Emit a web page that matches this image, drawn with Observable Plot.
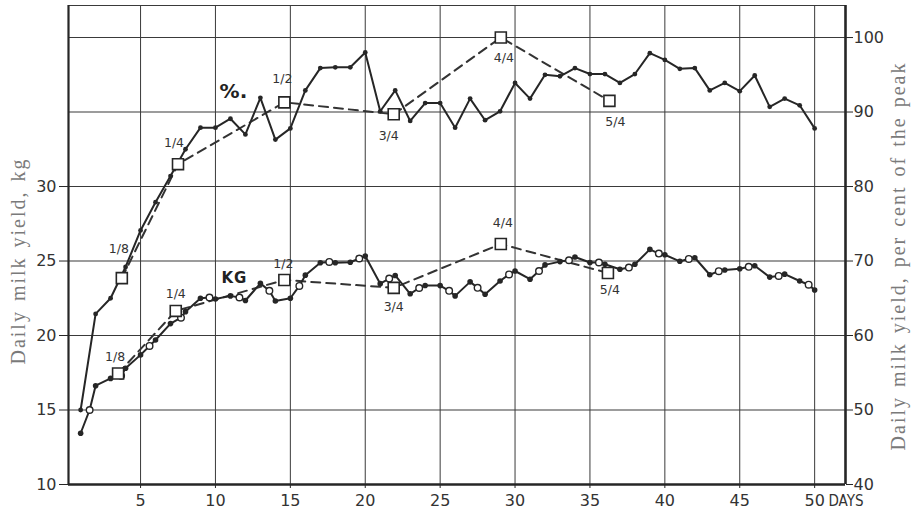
<!DOCTYPE html>
<html><head><meta charset="utf-8">
<script src="https://cdn.jsdelivr.net/npm/d3@7"></script>
<script src="https://cdn.jsdelivr.net/npm/@observablehq/plot@0.6"></script>
<style>
html,body{margin:0;padding:0;background:#fff;}
#chart svg{display:block;}
</style>
</head><body><div id="chart"></div>
<script>
// ---- data ----
const days = [1,2,3,4,5,6,7,8,9,10,11,12,13,14,15,16,17,18,19,20,21,22,23,24,25,26,27,28,29,30,31,32,33,34,35,36,37,38,39,40,41,42,43,44,45,46,47,48,49,50];
// daily yield, per cent of the peak (right axis)
const pctValues = [50.0,62.9,65.0,69.2,74.1,77.9,81.4,85.0,87.9,87.9,89.1,87.0,91.9,86.3,87.8,92.9,95.9,96.0,96.0,98.0,90.1,92.9,88.8,91.2,91.2,87.9,91.8,88.9,90.1,93.9,91.8,95.0,94.8,95.9,95.1,95.1,93.9,95.1,97.9,97.0,95.8,95.9,92.9,93.9,92.8,94.9,90.7,91.8,90.9,87.8];
// daily yield, kg (left axis), filled dots
const kgValues = [13.44,16.63,17.12,17.8,18.7,19.7,20.8,21.6,22.5,22.45,22.66,22.35,23.5,22.32,22.5,24.05,24.88,24.88,24.92,25.33,23.48,24.03,22.8,23.36,23.35,22.66,23.6,22.77,23.66,24.33,23.78,24.74,24.96,25.27,24.9,24.78,24.45,24.78,25.78,25.42,24.98,25.22,24.08,24.4,24.48,24.68,23.92,24.12,23.66,23.05];
// open circles on the kg curve
const openDays = [1.6,3.7,5.6,7.7,9.6,11.6,13.6,15.6,17.6,19.6,21.6,23.6,25.6,27.5,29.6,31.6,33.6,35.6,37.6,39.6,41.6,43.6,45.6,47.6,49.6];
const openKg = [15.0,17.3,19.3,21.2,22.55,22.55,23.0,23.33,24.94,25.17,23.82,23.19,23.0,23.2,24.1,24.33,25.05,24.9,24.56,25.5,25.14,24.32,24.61,24.0,23.41];
// quarter-period squares
const fracLabels = ["1/8","1/4","1/2","3/4","4/4","5/4"];
const topSqDays = [3.75,7.5,14.6,21.9,29.05,36.3];
const topSqPct = [67.7,83.0,91.3,89.7,100.0,91.5];
const botSqDays = [3.5,7.35,14.6,21.9,29.05,36.2];
const botSqKg = [17.45,21.65,23.73,23.2,26.14,24.2];
// axes
const xTicks = [5,10,15,20,25,30,35,40,45,50];
const kgTicks = [10,15,20,25,30];
const kgGrid = [15,20,25,30,35,40];
const pctTicks = [40,50,60,70,80,90,100];
const seriesNames = ["%.", "KG"];
const leftTitle = "Daily milk yield, kg";
const rightTitle = "Daily milk yield, per cent of the peak";

// ---- derived tables ----
const toKg = p => (p - 20) / 2;          // right axis: 40 % <-> 10 kg, 100 % <-> 40 kg
const topPts = days.map((d, i) => ({day: d, v: toKg(pctValues[i])}));
const botFilled = days.map((d, i) => ({day: d, v: kgValues[i]}));
const botOpen = openDays.map((d, i) => ({day: d, v: openKg[i]}));
const botAll = botFilled.concat(botOpen).sort((a, b) => a.day - b.day);
const topSq = fracLabels.map((l, i) => ({day: topSqDays[i], v: toKg(topSqPct[i]), label: l}));
const botSq = fracLabels.map((l, i) => ({day: botSqDays[i], v: botSqKg[i], label: l}));

const xDom = [0.19, 52.06];
const yDom = [10, 42.15];
const ink = "#262626";

// label offsets (layout)
const topOff = [[-3,-29],[-4,-21],[-2,-23],[-5,22],[3,20],[6,21]];
const botOff = [[-3,-17],[0,-17],[-1,-16],[0,19],[2,-21],[2,17]];
const fracStyle = {fontSize: 12.5, fill: "#333", fontFamily: "DejaVu Sans"};
const titleStyle = {rotate: -90, textAnchor: "middle", fontSize: 20, fontFamily: "Liberation Serif", fill: "#7a7a7a"};

const marks = [
  // grid
  Plot.ruleX(xTicks, {stroke: "#3a3a3a", strokeWidth: 1}),
  Plot.ruleY(kgGrid, {stroke: "#3a3a3a", strokeWidth: 1.1}),
  // frame
  Plot.ruleY([yDom[1]], {stroke: "#3a3a3a", strokeWidth: 1.1}),
  Plot.ruleX([xDom[0]], {stroke: ink, strokeWidth: 2.2}),
  Plot.ruleX([xDom[1]], {stroke: ink, strokeWidth: 2.6}),
  Plot.ruleY([yDom[0]], {stroke: ink, strokeWidth: 2.6}),
  // axes
  Plot.axisX(xTicks, {tickSize: 4, tickPadding: 6, label: null, fill: "#333", stroke: ink}),
  Plot.axisY(kgTicks, {anchor: "left", tickSize: 9, tickPadding: 3, label: null, fill: "#333", stroke: ink}),
  Plot.axisY(pctTicks.map(toKg), {anchor: "right", tickSize: 7, tickPadding: 1, label: null, tickFormat: d => String(d * 2 + 20), fill: "#333", stroke: ink}),
  // dashed quarter lines
  Plot.line(topSq, {x: "day", y: "v", stroke: "#333", strokeWidth: 2, strokeDasharray: "9,6"}),
  Plot.line(botSq, {x: "day", y: "v", stroke: "#333", strokeWidth: 2, strokeDasharray: "9,6"}),
  // solid curves
  Plot.line(topPts, {x: "day", y: "v", stroke: ink, strokeWidth: 2}),
  Plot.dot(topPts, {x: "day", y: "v", r: 2.4, fill: ink}),
  Plot.line(botAll, {x: "day", y: "v", stroke: ink, strokeWidth: 2}),
  Plot.dot(botFilled, {x: "day", y: "v", r: 2.8, fill: ink}),
  Plot.dot(botOpen, {x: "day", y: "v", r: 3.3, fill: "white", stroke: ink, strokeWidth: 1.4}),
  // squares
  Plot.dot(topSq, {x: "day", y: "v", symbol: "square", r: 6.2, fill: "white", stroke: ink, strokeWidth: 1.6}),
  Plot.dot(botSq, {x: "day", y: "v", symbol: "square", r: 6.2, fill: "white", stroke: ink, strokeWidth: 1.6}),
  // fraction labels
  ...topSq.map((d, i) => Plot.text([d], {x: "day", y: "v", text: "label", dx: topOff[i][0], dy: topOff[i][1], ...fracStyle})),
  ...botSq.map((d, i) => Plot.text([d], {x: "day", y: "v", text: "label", dx: botOff[i][0], dy: botOff[i][1], ...fracStyle})),
  // series names
  Plot.text([topPts[10]], {x: "day", y: "v", text: () => seriesNames[0], dx: 3, dy: -27, fontSize: 20, fontWeight: "bold", fill: "#222"}),
  Plot.text([botFilled[10]], {x: "day", y: "v", text: () => seriesNames[1], dx: 4, dy: -18, fontSize: 15, fontWeight: "bold", fill: "#222"}),
  // axis titles
  Plot.text([leftTitle], {frameAnchor: "left", text: d => d, dx: -50, dy: 16, ...titleStyle}),
  Plot.text([rightTitle], {frameAnchor: "right", text: d => d, dx: 53, dy: 11, ...titleStyle}),
  Plot.text(["DAYS"], {frameAnchor: "bottom-right", text: d => d, dx: 18, dy: 21, fontSize: 15, fill: "#333", fontFamily: "DejaVu Sans Condensed, DejaVu Sans"})
];

const chart = Plot.plot({
  width: 915, height: 516,
  marginLeft: 68, marginRight: 70, marginTop: 5, marginBottom: 32,
  style: {background: "white", fontFamily: "DejaVu Sans", fontSize: "16px", color: "#333"},
  x: {domain: xDom},
  y: {domain: yDom},
  marks
});
// spaced-out lettering of the titles
d3.select(chart).selectAll("text")
  .filter(function() { const t = this.textContent; return t === leftTitle || t === rightTitle; })
  .style("letter-spacing", "2px").style("word-spacing", "2px");
d3.select(chart).selectAll("text")
  .filter(function() { return this.textContent === seriesNames[1]; })
  .style("letter-spacing", "1px");
document.getElementById("chart").appendChild(chart);
</script>
</body></html>
